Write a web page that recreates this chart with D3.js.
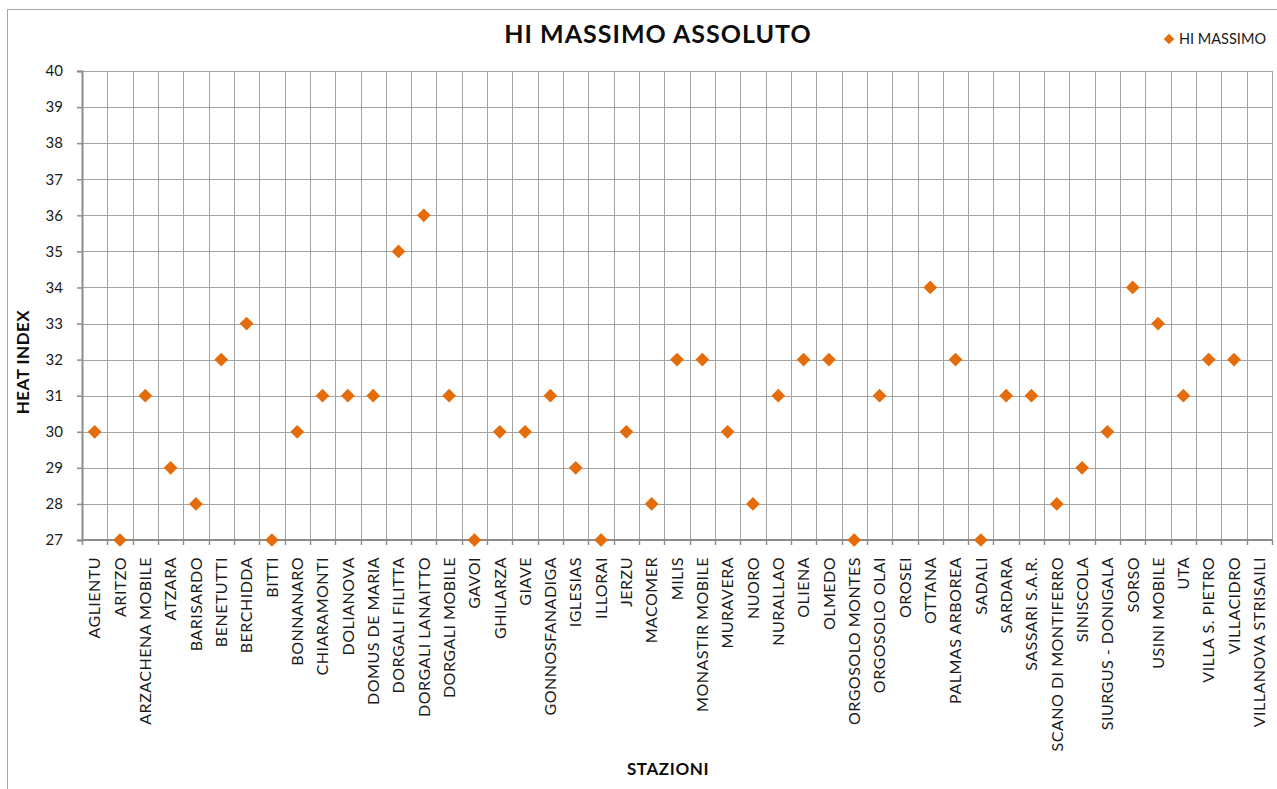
<!DOCTYPE html>
<html>
<head>
<meta charset="utf-8">
<script src="https://cdn.jsdelivr.net/npm/d3@7"></script>
<style>
  html, body { margin: 0; padding: 0; background: #fff; }
  svg { display: block; font-family: Lato, "Open Sans", sans-serif; }
</style>
</head>
<body>
<svg id="chart" width="1277" height="789"></svg>
<script>
// Stations (category axis)
const stations = [
  "AGLIENTU", "ARITZO", "ARZACHENA MOBILE", "ATZARA", "BARISARDO", "BENETUTTI",
  "BERCHIDDA", "BITTI", "BONNANARO", "CHIARAMONTI", "DOLIANOVA", "DOMUS DE MARIA",
  "DORGALI FILITTA", "DORGALI LANAITTO", "DORGALI MOBILE", "GAVOI", "GHILARZA",
  "GIAVE", "GONNOSFANADIGA", "IGLESIAS", "ILLORAI", "JERZU", "MACOMER", "MILIS",
  "MONASTIR MOBILE", "MURAVERA", "NUORO", "NURALLAO", "OLIENA", "OLMEDO",
  "ORGOSOLO MONTES", "ORGOSOLO OLAI", "OROSEI", "OTTANA", "PALMAS ARBOREA",
  "SADALI", "SARDARA", "SASSARI S.A.R.", "SCANO DI MONTIFERRO", "SINISCOLA",
  "SIURGUS - DONIGALA", "SORSO", "USINI MOBILE", "UTA", "VILLA S. PIETRO",
  "VILLACIDRO", "VILLANOVA STRISAILI"
];

// Maximum heat index per station (null = no data)
const hiMassimo = [
  30, 27, 31, 29, 28, 32,
  33, 27, 30, 31, 31, 31,
  35, 36, 31, 27, 30,
  30, 31, 29, 27, 30, 28, 32,
  32, 30, 28, 31, 32, 32,
  27, 31, null, 34, 32,
  27, 31, 31, 28, 29,
  30, 34, 33, 31, 32,
  32, null
];

const yTicks = [27, 28, 29, 30, 31, 32, 33, 34, 35, 36, 37, 38, 39, 40];

const seriesName = "HI MASSIMO";
const chartTitle = "HI MASSIMO ASSOLUTO";
const xTitle = "STAZIONI";
const yTitle = "HEAT INDEX";

const svg = d3.select("#chart");
const W = 1277, H = 789;
const plot = { left: 82, top: 71, right: 1272, bottom: 540 };

const markerColor = "#E46C0A";
const gridColor = "#a3a3a3";
const axisColor = "#8c8c8c";
const textColor = "#1a1a1a";

// Chart frame
svg.append("rect")
  .attr("x", 7.5).attr("y", 9.5)
  .attr("width", W + 10).attr("height", H + 10)
  .attr("fill", "#fff").attr("stroke", "#a6a6a6").attr("stroke-width", 1);

const x = d3.scaleBand().domain(stations).range([plot.left, plot.right]).padding(0);
const y = d3.scaleLinear().domain([27, 40]).range([plot.bottom, plot.top]);

// Horizontal gridlines
svg.append("g")
  .selectAll("line").data(yTicks).join("line")
  .attr("x1", plot.left).attr("x2", plot.right)
  .attr("y1", d => Math.round(y(d)) + 0.5).attr("y2", d => Math.round(y(d)) + 0.5)
  .attr("stroke", gridColor).attr("stroke-width", 1);

// Vertical gridlines at category boundaries
const bounds = stations.map(s => x(s)).concat([plot.right]);
svg.append("g")
  .selectAll("line").data(bounds.slice(1)).join("line")
  .attr("x1", d => Math.round(d) + 0.5).attr("x2", d => Math.round(d) + 0.5)
  .attr("y1", plot.top).attr("y2", plot.bottom)
  .attr("stroke", gridColor).attr("stroke-width", 1);

// Y axis
const yAxis = d3.axisLeft(y).tickValues(yTicks).tickSize(5).tickPadding(14).tickFormat(d3.format("d"));
const gy = svg.append("g").attr("transform", `translate(${plot.left},0)`).call(yAxis);
gy.select(".domain").attr("stroke", axisColor).attr("stroke-width", 2);
gy.selectAll(".tick line").attr("stroke", axisColor).attr("stroke-width", 1.5);
gy.selectAll(".tick text").attr("font-size", 15).attr("fill", textColor)
  .attr("font-family", "Lato, sans-serif");

// X axis: ticks between categories
const gx = svg.append("g").attr("transform", `translate(0,${plot.bottom})`);
gx.append("line")
  .attr("x1", plot.left).attr("x2", plot.right)
  .attr("y1", 0).attr("y2", 0)
  .attr("stroke", axisColor).attr("stroke-width", 2);
gx.selectAll("line.tk").data(bounds).join("line").attr("class", "tk")
  .attr("x1", d => Math.round(d) + 0.5).attr("x2", d => Math.round(d) + 0.5)
  .attr("y1", 0).attr("y2", 5)
  .attr("stroke", axisColor).attr("stroke-width", 1.5);
gx.selectAll("text").data(stations).join("text")
  .attr("transform", d => `translate(${x(d) + x.bandwidth() / 2},${17}) rotate(-90)`)
  .attr("text-anchor", "end")
  .attr("dy", "0.36em")
  .attr("font-size", 16)
  .attr("letter-spacing", 0.5)
  .attr("fill", textColor)
  .text(d => d);

// Diamond markers
const diamond = d3.symbol().type(d3.symbolDiamond2).size(120);
svg.append("g")
  .selectAll("path")
  .data(stations.map((s, i) => ({ s, v: hiMassimo[i] })).filter(d => d.v != null))
  .join("path")
  .attr("d", diamond)
  .attr("transform", d => `translate(${x(d.s) + x.bandwidth() / 2},${y(d.v)})`)
  .attr("fill", markerColor);

// Title
svg.append("text")
  .attr("x", 658).attr("y", 43)
  .attr("text-anchor", "middle")
  .attr("font-size", 25).attr("font-weight", "bold").attr("letter-spacing", 1)
  .attr("fill", "#0d0d0d")
  .text(chartTitle);

// Axis titles
svg.append("text")
  .attr("transform", `translate(29,362) rotate(-90)`)
  .attr("text-anchor", "middle")
  .attr("font-size", 17).attr("font-weight", "bold").attr("letter-spacing", 0.5)
  .attr("fill", "#0d0d0d")
  .text(yTitle);

svg.append("text")
  .attr("x", 668).attr("y", 775)
  .attr("text-anchor", "middle")
  .attr("font-size", 17).attr("font-weight", "bold").attr("letter-spacing", 0.6)
  .attr("fill", "#0d0d0d")
  .text(xTitle);

// Legend
const lg = svg.append("g").attr("transform", "translate(1169,39)");
lg.append("path").attr("d", d3.symbol().type(d3.symbolDiamond2).size(70)).attr("fill", markerColor);
lg.append("text").attr("x", 10).attr("dy", "0.35em")
  .attr("font-size", 14.5).attr("fill", textColor).text(seriesName);
</script>
</body>
</html>
